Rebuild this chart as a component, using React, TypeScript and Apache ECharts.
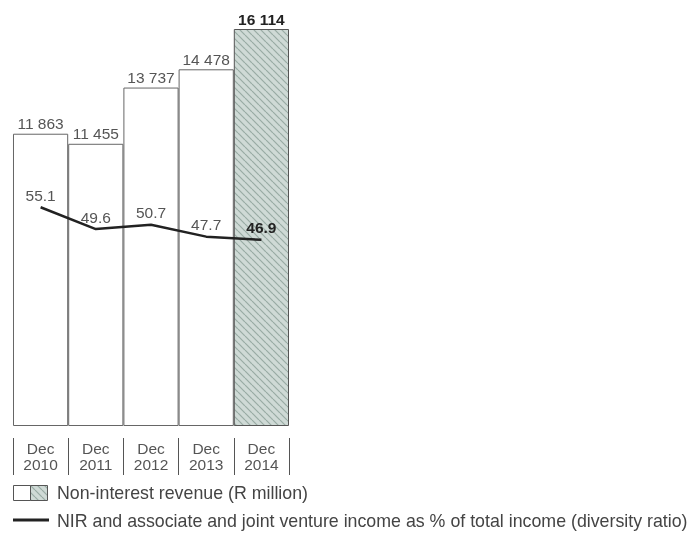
import React, { useEffect, useRef } from "react";
import * as echarts from "echarts";

const categories = ["Dec\n2010", "Dec\n2011", "Dec\n2012", "Dec\n2013", "Dec\n2014"];
const nirValues = [11863, 11455, 13737, 14478, 16114];
const ratioValues = [55.1, 49.6, 50.7, 47.7, 46.9];
const legendBar = "Non-interest revenue (R million)";
const legendLine = "NIR and associate and joint venture income as % of total income (diversity ratio)";

const FONT = "'Liberation Sans', Arial, Helvetica, sans-serif";
const GREY = "#555";
const DARK = "#222";

function makeHatch(): HTMLCanvasElement {
  const s = 7;
  const c = document.createElement("canvas");
  c.width = s;
  c.height = s;
  const ctx = c.getContext("2d")!;
  ctx.fillStyle = "#cfdad6";
  ctx.fillRect(0, 0, s, s);
  ctx.strokeStyle = "#98aba4";
  ctx.lineWidth = 1.2;
  for (const x0 of [-s, 0, s]) {
    ctx.beginPath();
    ctx.moveTo(x0, 0);
    ctx.lineTo(x0 + s, s);
    ctx.stroke();
  }
  return c;
}

const fmt = (v: number) => String(v).replace(/\B(?=(\d{3})+(?!\d))/g, " ");

export default function App() {
  const ref = useRef<HTMLDivElement>(null);
  useEffect(() => {
    if (!ref.current) return;
    const chart = echarts.init(ref.current, undefined, { renderer: "svg" });
    const hatch = { image: makeHatch(), repeat: "repeat" } as any;
    const last = nirValues.length - 1;
    chart.setOption({
      animation: false,
      textStyle: { fontFamily: FONT },
      grid: [
        { left: 13, right: 407, top: 29, bottom: 111, containLabel: false },
        { left: 13, right: 407, top: 438, bottom: 62, containLabel: false },
      ],
      xAxis: [
        {
          type: "category",
          data: categories,
          gridIndex: 0,
          axisLine: { show: false },
          axisTick: { show: false },
          axisLabel: { color: GREY, fontSize: 15.5, lineHeight: 16, margin: 14, fontFamily: FONT },
        },
        {
          type: "category",
          data: categories,
          gridIndex: 1,
          axisLine: { show: false },
          axisTick: { show: false },
          axisLabel: { show: false },
          splitLine: { show: true, showMinLine: true, showMaxLine: true, lineStyle: { color: "#555", width: 1 } },
        },
      ],
      yAxis: [
        { type: "value", min: 0, max: 16114, show: false, gridIndex: 0 },
        { type: "value", min: 0, max: 100, show: false, gridIndex: 0 },
        { type: "value", min: 0, max: 1, show: false, gridIndex: 1 },
      ],
      series: [
        {
          type: "bar",
          barCategoryGap: 0,
          data: nirValues.map((v, i) => ({
            value: v,
            itemStyle:
              i === last
                ? { color: hatch, borderColor: "#555", borderWidth: 1 }
                : { color: "#fff", borderColor: "#666", borderWidth: 1 },
            label:
              i === last
                ? { color: DARK, fontWeight: "bold" }
                : { color: GREY },
          })),
          label: {
            show: true,
            position: "top",
            distance: 2,
            fontSize: 15.5,
            fontFamily: FONT,
            formatter: (p: any) => fmt(p.value),
          },
        },
        {
          type: "line",
          yAxisIndex: 1,
          data: ratioValues.map((v, i) => ({
            value: v,
            label: i === last ? { color: DARK, fontWeight: "bold" } : { color: GREY },
          })),
          symbol: "circle",
          symbolSize: 0,
          showSymbol: true,
          lineStyle: { color: "#222", width: 2.5 },
          itemStyle: { color: "#222" },
          label: {
            show: true,
            position: "top",
            distance: 4,
            fontSize: 15.5,
            fontFamily: FONT,
            formatter: (p: any) => p.value.toFixed(1),
          },
          z: 5,
        },
      ],
      graphic: [
        { type: "rect", shape: { x: 13.5, y: 485.5, width: 17, height: 15 }, style: { fill: "#fff", stroke: "#555", lineWidth: 1 } },
        { type: "rect", shape: { x: 30.5, y: 485.5, width: 17, height: 15 }, style: { fill: hatch, stroke: "#555", lineWidth: 1 } },
        { type: "text", x: 57, y: 493, style: { text: legendBar, fill: "#444", font: `17.8px ${FONT}`, textVerticalAlign: "middle" } },
        { type: "line", shape: { x1: 13, y1: 520, x2: 49, y2: 520 }, style: { stroke: "#222", lineWidth: 3 } },
        { type: "text", x: 57, y: 521, style: { text: legendLine, fill: "#444", font: `17.8px ${FONT}`, textVerticalAlign: "middle" } },
      ],
    });
    return () => chart.dispose();
  }, []);
  return <div ref={ref} style={{ position: "fixed", left: 0, top: 0, width: 696, height: 537 }} />;
}
